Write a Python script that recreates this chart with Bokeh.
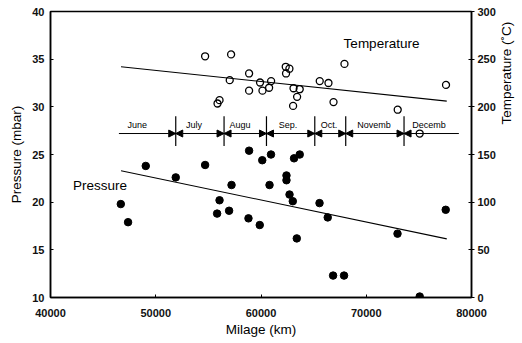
import math
from bokeh.plotting import figure
from bokeh.models import Range1d, LinearAxis, Arrow, NormalHead, FixedTicker
from bokeh.core.properties import value
from bokeh.embed import file_html
from bokeh.resources import INLINE

# ---- data ----
press_km = [46680, 47370, 49050, 51900, 54690, 57200, 56060, 55830, 56970, 58810,
            59880, 60810, 58870, 60120, 60950, 62420, 62420, 62710, 63020, 63400,
            63140, 63680, 65560, 66340, 66850, 67890, 72970, 75080, 77550]
press_mbar = [19.8, 17.9, 23.8, 22.6, 23.9, 21.8, 20.2, 18.8, 19.1, 18.3,
              17.6, 21.8, 25.4, 24.4, 25.0, 22.8, 22.3, 20.8, 20.1, 16.2,
              24.6, 25.0, 19.9, 18.4, 12.3, 12.3, 16.7, 10.1, 19.2]

temp_km = [54690, 57160, 57030, 56060, 55870, 58870, 58870, 59910, 60140, 60770,
           60960, 62350, 62700, 62380, 63680, 63090, 63430, 63050, 65580, 66410,
           66890, 67930, 72990, 75080, 77580]
temp_c = [253, 255, 228, 207, 203.5, 235, 217, 225.5, 217, 220,
          227, 242, 240, 235, 218.5, 219.5, 210.5, 201, 227, 225,
          205, 245, 197, 172, 223]

trend_km = [46700, 77650]
press_trend = [23.3, 16.15]
temp_trend = [242, 206]

month_names = ["June", "July", "Augu", "Sep.", "Oct.", "Novemb", "Decemb"]
month_bounds = [46500, 51900, 56490, 60520, 65110, 68050, 73590, 78800]
month_label_km = [48250, 53630, 58010, 62570, 66470, 70740, 75970]

x_ticks = [40000, 50000, 60000, 70000, 80000]
p_ticks = [10, 15, 20, 25, 30, 35, 40]
t_ticks = [0, 50, 100, 150, 200, 250, 300]

FONT = "Liberation Sans"

p = figure(frame_width=421, frame_height=286,
           x_range=Range1d(40000, 80000), y_range=Range1d(10, 40),
           output_backend="svg", toolbar_location=None,
           min_border_left=50, min_border_right=51,
           min_border_top=11, min_border_bottom=46)
p.extra_y_ranges = {"temp": Range1d(0, 300)}
p.xgrid.visible = False
p.ygrid.visible = False
p.outline_line_color = "black"
p.outline_line_width = 1.5
p.background_fill_color = "white"
p.border_fill_color = "white"

def style_axis(ax):
    ax.axis_line_color = "black"
    ax.axis_line_width = 1.5
    ax.major_tick_line_color = "black"
    ax.minor_tick_line_color = None
    ax.major_label_text_font = FONT
    ax.major_label_text_font_size = "11px"
    ax.major_label_text_font_style = "bold"
    ax.major_label_text_color = "#111111"
    ax.axis_label_text_font = FONT
    ax.axis_label_text_font_size = "13.5px"
    ax.axis_label_text_font_style = "normal"
    ax.axis_label_text_color = "black"

xa = p.xaxis[0]
style_axis(xa)
xa.ticker = FixedTicker(ticks=x_ticks)
xa.major_tick_in = 3
xa.major_tick_out = 0
xa.major_label_standoff = 11
xa.axis_label = "Milage (km)"
xa.axis_label_standoff = 2

ya = p.yaxis[0]
style_axis(ya)
ya.ticker = FixedTicker(ticks=p_ticks)
ya.major_tick_in = 3
ya.major_tick_out = 0
ya.major_label_standoff = 6
ya.axis_label = "Pressure (mbar)"
ya.axis_label_standoff = 5

ra = LinearAxis(y_range_name="temp")
style_axis(ra)
ra.ticker = FixedTicker(ticks=t_ticks)
ra.major_tick_in = 3
ra.major_tick_out = 3
ra.major_label_standoff = 3
ra.axis_label = "\u00a0" * 8 + "Temperature (\u02daC)"
ra.axis_label_standoff = 8
if "axis_label_orientation" in ra.properties():
    ra.axis_label_orientation = math.pi / 2
p.add_layout(ra, "right")

# trend lines
p.line(trend_km, press_trend, line_color="black", line_width=1.1)
p.line(trend_km, temp_trend, line_color="black", line_width=1.1, y_range_name="temp")

# points
p.scatter(press_km, press_mbar, size=7.5, fill_color="black", line_color="black")
p.scatter(temp_km, temp_c, size=7, fill_color=None, line_color="black",
          line_width=1.3, y_range_name="temp")

# series labels
p.text(x=[71450], y=[36.6], text=["Temperature"], text_font=value(FONT),
       text_font_size="13.5px", text_align="center", text_baseline="middle", color="black")
p.text(x=[44700], y=[21.8], text=["Pressure"], text_font=value(FONT),
       text_font_size="13.5px", text_align="center", text_baseline="middle", color="black")

# month band
sep = month_bounds[1:-1]
p.segment(x0=sep, y0=[25.9] * len(sep), x1=sep, y1=[29.0] * len(sep),
          line_color="black", line_width=1.2)
p.text(x=month_label_km, y=[28.05] * len(month_names), text=month_names,
       text_font=value(FONT), text_font_size="9px", text_align="center",
       text_baseline="middle", color="black")
n = len(month_names)
for i in range(n):
    start = None if i == 0 else NormalHead(size=7, fill_color="black", line_color="black")
    end = None if i == n - 1 else NormalHead(size=7, fill_color="black", line_color="black")
    p.add_layout(Arrow(x_start=month_bounds[i], y_start=27.2,
                       x_end=month_bounds[i + 1], y_end=27.2,
                       start=start, end=end, line_color="black", line_width=1))

open("out.html", "w").write(file_html(p, INLINE))
